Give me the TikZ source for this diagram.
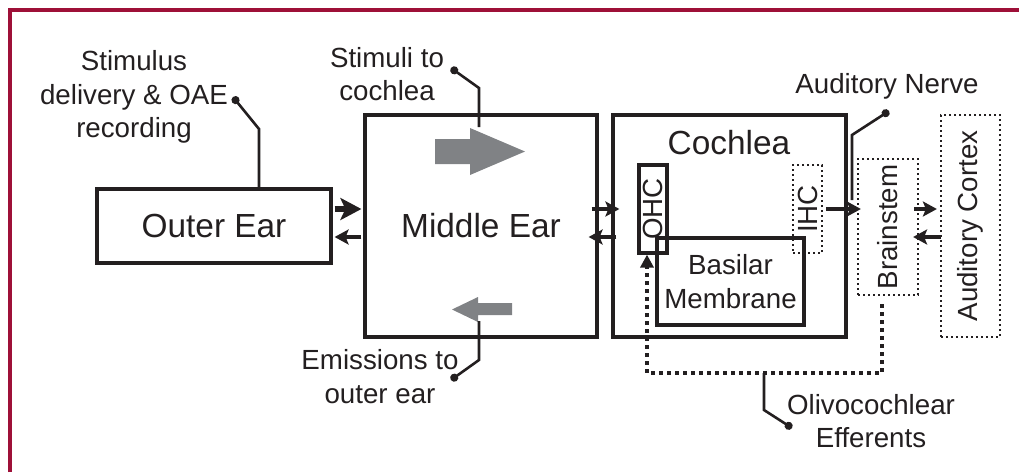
\documentclass[tikz,border=0pt]{standalone}
\usepackage{fontspec}
\setmainfont{Liberation Sans}
\usepackage{graphicx}
\usetikzlibrary{arrows.meta,positioning,calc}
\definecolor{framered}{RGB}{158,16,56}
\definecolor{ink}{RGB}{35,31,32}
\definecolor{arrowgray}{RGB}{128,130,133}
\newcommand{\bigfont}{\fontsize{16.7pt}{20pt}\selectfont}
\newcommand{\smallfont}{\fontsize{13.85pt}{16.75pt}\selectfont}
\tikzset{
    box/.style={draw, line width=1.6pt, inner sep=0pt, font=\bigfont},
    dotbox/.style={draw, line width=1.1pt, dash pattern=on 1.1pt off 1.4pt, inner sep=0pt, font=\smallfont},
    sig/.style={line width=2.2pt, -{Stealth[length=7pt,width=7.5pt,inset=1.5pt]}},
    callout/.style={line width=1.3pt, {Circle[length=4pt]}-},
    efferent/.style={line width=1.9pt, dash pattern=on 1.9pt off 2.1pt, -{Triangle[length=6.5pt,width=6.5pt]}},
    lbl/.style={font=\smallfont, align=center, inner sep=0pt},
}

\begin{document}
\begin{tikzpicture}[x=0.5pt, y=-0.5pt, ink]
    \useasboundingbox (0,0) rectangle (1019,472);
    % Frame
    \draw[framered, line width=1.7pt] (10,472) -- (10,10) -- (1019,10);

    % Ear stages
    \node[box, minimum width=117pt, minimum height=37pt] (outer) at (214,226) {Outer Ear};
    \node[box, minimum width=116pt, minimum height=111pt] (middle) at (481,226) {Middle Ear};
    \node[box, minimum width=116.5pt, minimum height=111pt] (cochlea) at (729.5,226) {};
    \node[font=\bigfont, inner sep=0pt] (cochlealbl) at (729,143) {Cochlea};

    % Hair cells and membrane
    \node[box, font=\smallfont, minimum width=14pt, minimum height=44pt] (ohc) at (653,209) {\rotatebox{90}{OHC}};
    \node[box, font=\smallfont, align=center, minimum width=73.5pt, minimum height=43.5pt] (bm) at (730.5,281.5) {Basilar\\Membrane};
    \node[dotbox, minimum width=14.5pt, minimum height=44pt] (ihc) at (807.5,209) {\rotatebox{90}{IHC}};

    % Central stages
    \node[dotbox, minimum width=30pt, minimum height=68pt] (brainstem) at (888,227) {\rotatebox{90}{Brainstem}};
    \node[dotbox, minimum width=29.5pt, minimum height=111pt] (cortex) at (970.5,226) {\rotatebox{90}{Auditory Cortex}};

    % Signal paths
    \coordinate (rowup) at (0,209);
    \coordinate (rowdn) at (0,237);
    \draw[sig, line width=2.6pt, -{Stealth[length=10.5pt,width=11pt,inset=2.5pt]}] ($(outer.east|-rowup)+(2,0)$) -- ($(middle.west|-rowup)+(-2,0)$);
    \draw[sig] ($(middle.west|-rowdn)+(-2,0)$) -- ($(outer.east|-rowdn)+(2,0)$);
    \draw[sig] ($(middle.east|-rowup)+(-7,0)$) -- ($(cochlea.west|-rowup)+(8,0)$);
    \draw[sig] ($(cochlea.west|-rowdn)+(5,0)$) -- ($(middle.east|-rowdn)+(-10,0)$);
    \draw[sig] ($(ihc.east)+(3,0)$) -- ($(brainstem.west|-ihc.east)+(4,0)$);
    \draw[sig] ($(brainstem.east|-rowup)+(-5,0)$) -- ($(cortex.west|-rowup)+(-3,0)$);
    \draw[sig] ($(cortex.west|-rowdn)+(1,0)$) -- ($(brainstem.east|-rowdn)+(-6,0)$);

    % Transfer through the middle ear
    \fill[arrowgray] (435,139) -- (470,139) -- (470,128) -- (525,151.5) -- (470,175) -- (470,164) -- (435,164) -- cycle;
    \fill[arrowgray] (512,303) -- (478,303) -- (478,297) -- (452,309.5) -- (478,322) -- (478,315) -- (512,315) -- cycle;

    % Efferent feedback
    \coordinate (effmid) at (764,373);
    \draw[efferent] ($(brainstem.south)+(-6,8)$) |- (effmid) -| ($(ohc.south)+(-6,0)$);

    % Callouts
    \node[lbl] (stimtxt) at (134,97) {Stimulus\\delivery \& OAE\\recording};
    \coordinate (stimdot) at (233,97);
    \coordinate (stimbend) at (259,129);
    \draw[callout] (stimdot) -- (stimbend) -- (stimbend|-outer.north);

    \node[lbl] (fwdtxt) at (387,74) {Stimuli to\\cochlea};
    \coordinate (fwddot) at (451,68);
    \coordinate (fwdbend) at (479,88);
    \draw[callout] (fwddot) -- (fwdbend) -- (479,127);

    \node[lbl] (bwdtxt) at (380,376.5) {Emissions to\\outer ear};
    \coordinate (bwddot) at (451,380);
    \coordinate (bwdbend) at (479,360);
    \draw[callout] (bwddot) -- (bwdbend) -- (479,321);

    \node[lbl] (nervetxt) at (887,86) {Auditory Nerve};
    \coordinate (nervedot) at (889,111);
    \coordinate (nervebend) at (852,135);
    \draw[callout] (nervedot) -- (nervebend) -- (852,200);

    \node[lbl] (olivotxt) at (871,421) {Olivocochlear\\Efferents};
    \coordinate (olivodot) at (792,428);
    \coordinate (olivobend) at (764,410);
    \draw[callout] (olivodot) -- (olivobend) -- (effmid);
\end{tikzpicture}
\end{document}
